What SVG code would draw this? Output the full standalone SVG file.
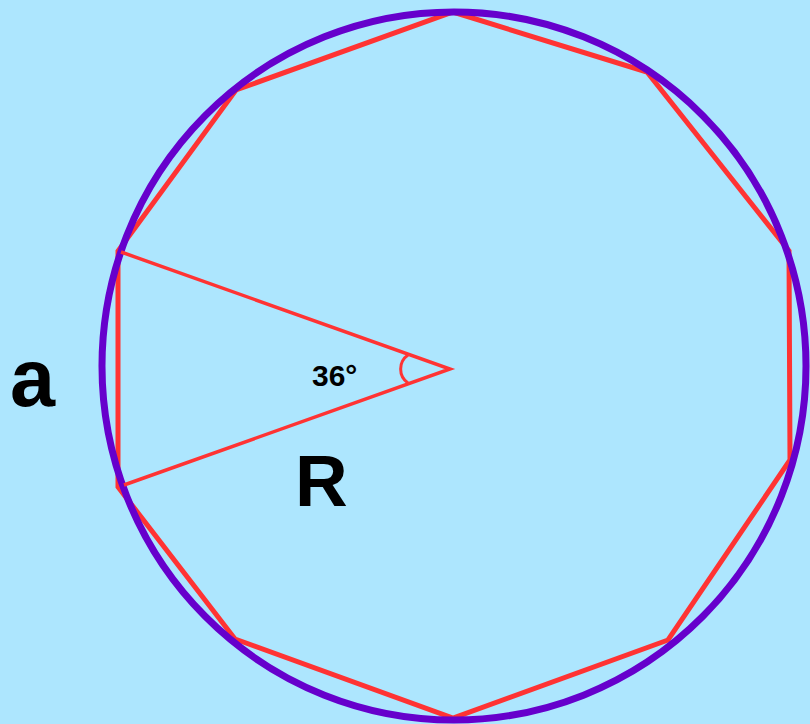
<svg xmlns="http://www.w3.org/2000/svg" width="810" height="724" viewBox="0 0 810 724">
<style>
.lbl{font-family:"Liberation Sans",Arial,sans-serif;font-weight:bold;fill:#000}
.red{fill:none;stroke:#FF3333;stroke-linejoin:miter}
</style>
<rect x="0" y="0" width="810" height="724" fill="#ADE6FE"/>
<g id="decagon">
<polygon class="red" stroke-width="5" points="453,12 647,72 789,251 790,460 668,640 453,718 235,639 118,487 118,251 236,90"/>
</g>
<g id="circle">
<ellipse cx="454" cy="366" rx="352" ry="354" fill="none" stroke="#6600CC" stroke-width="7"/>
</g>
<g id="connectors">
<polyline class="red" stroke-width="3.5" points="121,252 450,369 124,485"/>
<path class="red" stroke-width="3" d="M408,355 A17,17 0 0 0 408,383"/>
</g>
<g id="labels">
<text class="lbl" x="312" y="386" font-size="30">36°</text>
<text class="lbl" x="295" y="506" font-size="73">R</text>
<text class="lbl" x="10" y="406" font-size="81">a</text>
</g>
</svg>
